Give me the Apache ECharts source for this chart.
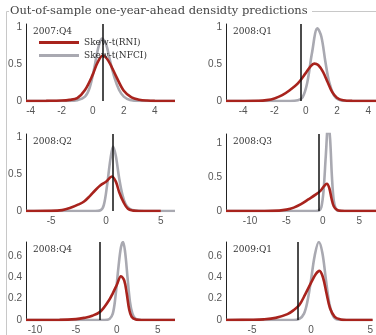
<!DOCTYPE html>
<html>
<head>
<meta charset="utf-8">
<script src="https://cdn.jsdelivr.net/npm/echarts@6/dist/echarts.min.js"></script>
<style>
  html, body { margin: 0; padding: 0; background: #fff; }
  #chart { width: 376px; height: 335px; }
</style>
</head>
<body>
<div id="chart"></div>
<script>
const titleText = 'Out-of-sample one-year-ahead densidty predictions';
const quarters = ['2007:Q4', '2008:Q1', '2008:Q2', '2008:Q3', '2008:Q4', '2009:Q1'];
const realized = [0.65, -0.3, 0.65, -0.5, -2.1, -1.1];
const rniName = 'Skew-t(RNI)';
const nfciName = 'Skew-t(NFCI)';

// 2007:Q4
const rniX1 = [-4.3, -3, -2, -1.5, -1, -0.5, 0, 0.3, 0.65, 1, 1.5, 2, 2.5, 3, 3.5, 4, 5.3];
const rniY1 = [0, 0.002, 0.006, 0.015, 0.04, 0.15, 0.36, 0.52, 0.62, 0.55, 0.34, 0.14, 0.05, 0.018, 0.006, 0.002, 0];
const nfciX1 = [-4.3, -1.5, -1, -0.5, -0.2, 0.1, 0.35, 0.6, 0.85, 1.1, 1.4, 1.7, 2, 2.4, 3, 5.3];
const nfciY1 = [0, 0, 0.01, 0.06, 0.18, 0.45, 0.72, 0.85, 0.78, 0.56, 0.32, 0.15, 0.06, 0.015, 0, 0];

// 2008:Q1
const rniX2 = [-5.1, -3, -2.5, -2, -1.5, -1, -0.5, 0, 0.3, 0.55, 0.8, 1.1, 1.4, 1.7, 2, 2.4, 3, 4.5];
const rniY2 = [0, 0.003, 0.012, 0.035, 0.08, 0.15, 0.24, 0.38, 0.47, 0.51, 0.49, 0.4, 0.26, 0.12, 0.045, 0.01, 0.001, 0];
const nfciX2 = [-5.1, -1, -0.5, -0.2, 0.1, 0.4, 0.75, 1, 1.25, 1.5, 1.8, 2.1, 2.6, 4.5];
const nfciY2 = [0, 0, 0.01, 0.05, 0.25, 0.65, 0.99, 0.88, 0.55, 0.26, 0.08, 0.02, 0, 0];

// 2008:Q2
const rniX3 = [-7.3, -5, -4, -3.3, -2.5, -2, -1.5, -1, -0.5, 0, 0.55, 0.9, 1.2, 1.6, 2, 2.5, 3, 5];
const rniY3 = [0, 0.002, 0.012, 0.04, 0.09, 0.13, 0.2, 0.28, 0.35, 0.4, 0.47, 0.4, 0.26, 0.12, 0.03, 0.005, 0, 0];
const nfciX3 = [-7.3, -1, -0.5, -0.2, 0.1, 0.4, 0.65, 0.9, 1.2, 1.5, 1.8, 2.2, 2.7, 3.5, 6.3];
const nfciY3 = [0, 0, 0.01, 0.08, 0.35, 0.7, 0.88, 0.75, 0.45, 0.22, 0.09, 0.025, 0.005, 0, 0];

// 2008:Q3
const rniX4 = [-13.3, -8, -6, -5, -4, -3, -2, -1, -0.3, 0.2, 0.55, 0.9, 1.2, 1.5, 1.9, 2.5, 3, 7.3];
const rniY4 = [0, 0, 0.006, 0.02, 0.05, 0.1, 0.17, 0.24, 0.3, 0.37, 0.4, 0.33, 0.18, 0.07, 0.02, 0.002, 0, 0];
const nfciX4 = [-13.3, -1, -0.5, -0.2, 0.1, 0.4, 0.75, 1, 1.25, 1.5, 1.8, 2.2, 7.3];
const nfciY4 = [0, 0, 0.01, 0.06, 0.3, 0.8, 1.3, 1.05, 0.5, 0.15, 0.03, 0, 0];

// 2008:Q4
const rniX5 = [-11.1, -7, -5, -4, -3, -2, -1, -0.5, 0, 0.5, 0.9, 1.2, 1.5, 1.8, 2.3, 3, 7.1];
const rniY5 = [0, 0.001, 0.008, 0.02, 0.04, 0.08, 0.18, 0.25, 0.33, 0.41, 0.37, 0.25, 0.1, 0.03, 0.005, 0, 0];
const nfciX5 = [-11.1, -1.5, -0.9, -0.5, -0.2, 0.2, 0.5, 0.75, 1, 1.3, 1.6, 1.9, 2.3, 3, 7.1];
const nfciY5 = [0, 0, 0.01, 0.06, 0.2, 0.5, 0.68, 0.73, 0.64, 0.4, 0.17, 0.06, 0.01, 0, 0];

// 2009:Q1
const rniX6 = [-7.2, -5, -4, -3, -2, -1.5, -1, -0.5, 0, 0.4, 0.7, 1, 1.3, 1.6, 2, 2.5, 3, 5.2];
const rniY6 = [0, 0.002, 0.006, 0.02, 0.055, 0.09, 0.14, 0.24, 0.35, 0.43, 0.46, 0.4, 0.25, 0.11, 0.03, 0.005, 0, 0];
const nfciX6 = [-7.2, -1.5, -1, -0.6, -0.3, 0, 0.3, 0.65, 0.95, 1.25, 1.55, 1.85, 2.2, 3, 5.2];
const nfciY6 = [0, 0, 0.01, 0.06, 0.18, 0.38, 0.6, 0.73, 0.63, 0.38, 0.15, 0.04, 0.005, 0, 0];

const rniX = [rniX1, rniX2, rniX3, rniX4, rniX5, rniX6];
const rniY = [rniY1, rniY2, rniY3, rniY4, rniY5, rniY6];
const nfciX = [nfciX1, nfciX2, nfciX3, nfciX4, nfciX5, nfciX6];
const nfciY = [nfciY1, nfciY2, nfciY3, nfciY4, nfciY5, nfciY6];

// axis limits and layout per panel
const panels = [
  { left: 26, top: 24, width: 149, height: 77, xMin: -4.3, xMax: 5.3, split: 5, yMax: 1.05, yStep: 0.5 },
  { left: 226, top: 24, width: 150, height: 77, xMin: -5.1, xMax: 4.5, split: 5, yMax: 1.05, yStep: 0.5 },
  { left: 26, top: 134, width: 149, height: 77, xMin: -7.3, xMax: 6.3, split: 3, yMax: 1.05, yStep: 0.5 },
  { left: 226, top: 134, width: 150, height: 77, xMin: -13.3, xMax: 7.3, split: 4, yMax: 1.13, yStep: 0.5 },
  { left: 26, top: 242, width: 149, height: 78, xMin: -11.1, xMax: 7.1, split: 4, yMax: 0.73, yStep: 0.2 },
  { left: 226, top: 242, width: 150, height: 78, xMin: -7.2, xMax: 5.2, split: 3, yMax: 0.73, yStep: 0.2 }
];

const zip = (xs, ys) => xs.map((x, i) => [x, ys[i]]);
const tickFont = { color: '#555', fontSize: 10, fontFamily: 'Liberation Sans' };
const serif = 'DejaVu Serif';

const chart = echarts.init(document.getElementById('chart'), null, { renderer: 'canvas' });

const grid = [], xAxis = [], yAxis = [], series = [], titles = [];

panels.forEach((p, i) => {
  grid.push({ left: p.left, top: p.top, width: p.width, height: p.height, containLabel: false });
  xAxis.push({
    type: 'value', gridIndex: i, min: p.xMin, max: p.xMax, splitNumber: p.split,
    axisLine: { show: false, onZero: false }, axisTick: { show: false }, splitLine: { show: false },
    axisLabel: { ...tickFont, margin: 5, showMinLabel: false, showMaxLabel: false }
  });
  yAxis.push({
    type: 'value', gridIndex: i, min: 0, max: p.yMax, interval: p.yStep,
    axisLine: { show: true, onZero: false, lineStyle: { color: '#222', width: 1 } },
    axisTick: { show: false }, splitLine: { show: false },
    axisLabel: { ...tickFont, margin: 4, showMaxLabel: false,
      formatter: (v) => (Math.abs(v - Math.round(v / p.yStep) * p.yStep) < 1e-9 ? String(+v.toFixed(2)) : '') }
  });
  series.push({
    name: nfciName, type: 'line', xAxisIndex: i, yAxisIndex: i,
    data: zip(nfciX[i], nfciY[i]), smooth: 0.35, showSymbol: false,
    lineStyle: { color: '#a9a9b1', width: 2.6 }, itemStyle: { color: '#a9a9b1' },
    animation: false, z: 2
  });
  series.push({
    name: rniName, type: 'line', xAxisIndex: i, yAxisIndex: i,
    data: zip(rniX[i], rniY[i]), smooth: 0.35, showSymbol: false,
    lineStyle: { color: '#a8231d', width: 2.6 }, itemStyle: { color: '#a8231d' },
    animation: false, z: 3,
    markLine: {
      silent: true, symbol: 'none', animation: false,
      label: { show: false },
      lineStyle: { color: '#111', width: 1.5, type: 'solid' },
      data: [{ xAxis: realized[i] }]
    }
  });
  titles.push({
    text: quarters[i], left: p.left + 7, top: p.top + 3, padding: 0,
    textStyle: { fontFamily: serif, fontSize: 9, fontWeight: 'normal', color: '#333' }
  });
});

titles.push({
  text: titleText, left: 10, top: 5, padding: 0,
  textStyle: { fontFamily: serif, fontSize: 11.5, fontWeight: 'normal', color: '#444' }
});

chart.setOption({
  animation: false,
  title: titles,
  legend: {
    data: [rniName, nfciName], orient: 'vertical', left: 39, top: 38, padding: 0,
    itemWidth: 40, itemHeight: 3, itemGap: 4, icon: 'rect',
    textStyle: { fontFamily: serif, fontSize: 9, color: '#333' }
  },
  grid, xAxis, yAxis, series,
  graphic: [
    { type: 'line', shape: { x1: 6.5, y1: 11.5, x2: 6.5, y2: 335 }, style: { stroke: '#c8c8c8', lineWidth: 1 } },
    { type: 'line', shape: { x1: 6.5, y1: 11.5, x2: 9, y2: 11.5 }, style: { stroke: '#c8c8c8', lineWidth: 1 } },
    { type: 'line', shape: { x1: 312, y1: 11.5, x2: 376, y2: 11.5 }, style: { stroke: '#c8c8c8', lineWidth: 1 } }
  ]
});
</script>
</body>
</html>
